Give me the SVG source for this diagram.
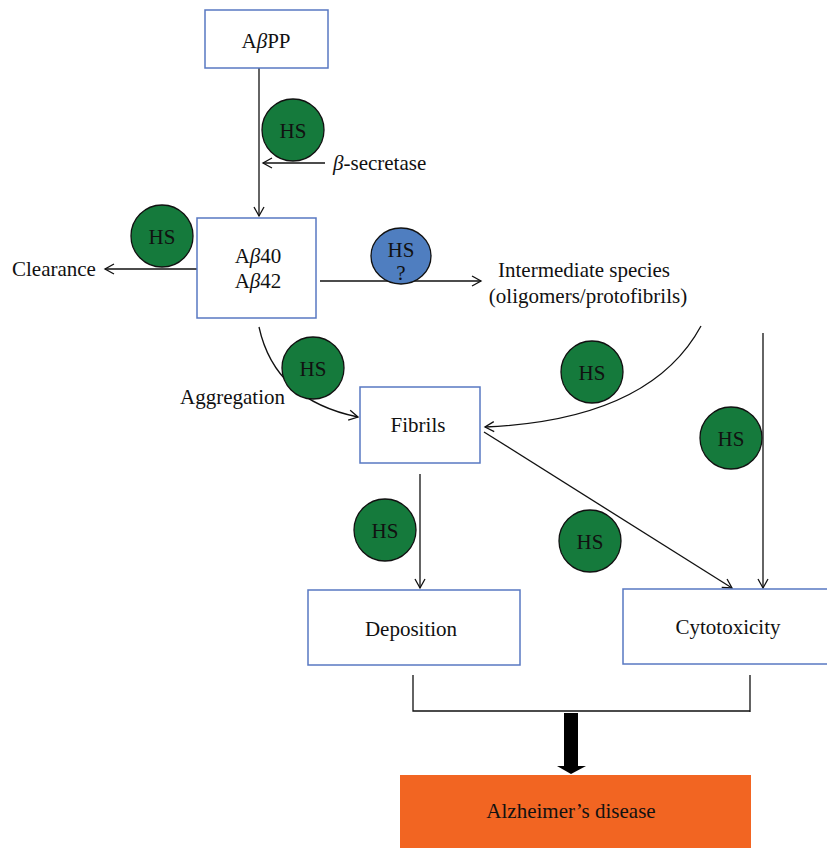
<svg xmlns="http://www.w3.org/2000/svg" width="827" height="848" viewBox="0 0 827 848">
<defs>
<marker id="arr" markerWidth="12" markerHeight="12" refX="10" refY="6" orient="auto" markerUnits="userSpaceOnUse">
<path d="M1,1 L10,6 L1,11" fill="none" stroke="#111" stroke-width="1.3"/>
</marker>
<style>
.box{fill:#fff;stroke:#5878C2;stroke-width:1.5}
.t{font-family:"Liberation Serif","Times New Roman",serif;font-size:21px;fill:#111;text-anchor:middle}
.ts{font-family:"Liberation Serif","Times New Roman",serif;font-size:21px;fill:#111}
.hs{fill:#157A3C;stroke:#111;stroke-width:1.3}
.ln{fill:none;stroke:#111;stroke-width:1.3}
</style>
</defs>
<rect width="827" height="848" fill="#fff"/>

<g id="connectors">
<line class="ln" x1="259" y1="68" x2="259" y2="216" marker-end="url(#arr)"/>
<line class="ln" x1="325" y1="163" x2="263" y2="163" marker-end="url(#arr)"/>
<line class="ln" x1="197" y1="269" x2="105" y2="269" marker-end="url(#arr)"/>
<line class="ln" x1="320" y1="281" x2="481" y2="281" marker-end="url(#arr)"/>
<path class="ln" d="M259,327 Q275,400 358,417" marker-end="url(#arr)"/>
<path class="ln" d="M701,326 Q650,420 485,427" marker-end="url(#arr)"/>
<line class="ln" x1="763" y1="333" x2="763" y2="588" marker-end="url(#arr)"/>
<line class="ln" x1="484" y1="432" x2="732" y2="588" marker-end="url(#arr)"/>
<line class="ln" x1="420" y1="474" x2="420" y2="588" marker-end="url(#arr)"/>
<path class="ln" d="M413,675 L413,711 L750,711 M750,675 L750,712"/>
<path d="M564,713 L578,713 L578,766 L586,766 L571,774 L557,766 L564,766 Z" fill="#000"/>
</g>

<g id="abpp">
<rect class="box" x="205" y="10" width="123" height="58"/>
<text class="t" x="266" y="48">A<tspan font-style="italic">β</tspan>PP</text>
</g>
<g id="hs1"><circle class="hs" cx="293" cy="130" r="31"/><text class="t" x="293" y="138">HS</text></g>
<g id="secretase"><text class="ts" x="333" y="170"><tspan font-style="italic">β</tspan>-secretase</text></g>

<g id="ab4042">
<rect class="box" x="197" y="218" width="119" height="100"/>
<text class="t" x="258" y="263">A<tspan font-style="italic">β</tspan>40</text>
<text class="t" x="258" y="288">A<tspan font-style="italic">β</tspan>42</text>
</g>
<g id="hs2"><circle class="hs" cx="162" cy="236" r="31"/><text class="t" x="162" y="244">HS</text></g>
<g id="clearance"><text class="ts" x="12" y="276">Clearance</text></g>

<g id="hsq">
<ellipse cx="401" cy="256" rx="30" ry="28" fill="#4F7EC0" stroke="#111" stroke-width="1.3"/>
<text class="t" x="401" y="257">HS</text>
<text class="t" x="401" y="280" font-size="15">?</text>
</g>
<g id="intermediate">
<text class="t" x="584" y="277">Intermediate species</text>
<text class="t" x="588" y="303">(oligomers/protofibrils)</text>
</g>

<g id="hs3"><circle class="hs" cx="313" cy="368" r="31"/><text class="t" x="313" y="376">HS</text></g>
<g id="aggregation"><text class="ts" x="180" y="404">Aggregation</text></g>

<g id="fibrils">
<rect class="box" x="360" y="387" width="120" height="76"/>
<text class="t" x="418" y="432">Fibrils</text>
</g>
<g id="hs4"><circle class="hs" cx="592" cy="372" r="31"/><text class="t" x="592" y="380">HS</text></g>
<g id="hs5"><circle class="hs" cx="731" cy="438" r="31"/><text class="t" x="731" y="446">HS</text></g>
<g id="hs6"><circle class="hs" cx="385" cy="530" r="31"/><text class="t" x="385" y="538">HS</text></g>
<g id="hs7"><circle class="hs" cx="590" cy="541" r="31"/><text class="t" x="590" y="549">HS</text></g>

<g id="deposition">
<rect class="box" x="308" y="590" width="212" height="75"/>
<text class="t" x="411" y="636">Deposition</text>
</g>
<g id="cytotoxicity">
<rect class="box" x="623" y="589" width="210" height="75"/>
<text class="t" x="728" y="634">Cytotoxicity</text>
</g>

<g id="alzheimers">
<rect x="400" y="775" width="351" height="73" fill="#F26522"/>
<text class="t" x="571" y="818">Alzheimer’s disease</text>
</g>
</svg>
